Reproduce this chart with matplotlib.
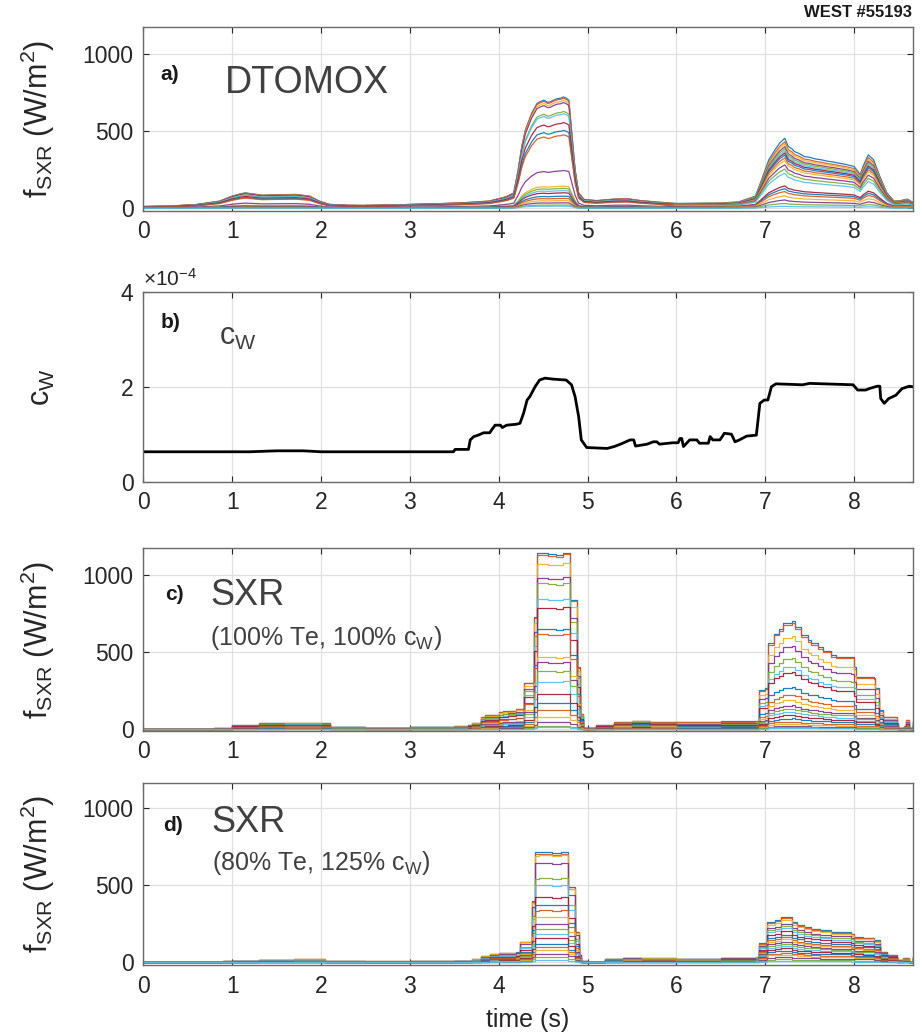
import numpy as np
import matplotlib
matplotlib.use("Agg")
import matplotlib.pyplot as plt

plt.rcParams['font.family'] = ['Liberation Sans', 'DejaVu Sans']
plt.rcParams['mathtext.fontset'] = 'custom'
plt.rcParams['mathtext.rm'] = 'Liberation Sans'
plt.rcParams['mathtext.it'] = 'Liberation Sans:italic'
plt.rcParams['mathtext.bf'] = 'Liberation Sans:bold'

# ---------------- data ----------------
# panel a: DTOMOX, top-channel envelope (W/m^2)
t_a = [0, 0.3, 0.6, 0.86, 1.0, 1.1, 1.15, 1.34, 1.5, 1.72, 1.87, 1.98, 2.09, 2.3, 2.47, 2.8,
       3.03, 3.3, 3.59, 3.89, 4.04, 4.1, 4.17, 4.22, 4.26, 4.30, 4.37, 4.43, 4.47, 4.51, 4.55,
       4.58, 4.62, 4.66, 4.70, 4.73, 4.76, 4.79, 4.82, 4.86, 4.90, 4.96, 5.1, 5.3, 5.45, 5.6,
       5.8, 6.0, 6.2, 6.5, 6.7, 6.89, 6.96, 7.04, 7.11, 7.16, 7.22, 7.26, 7.30, 7.33, 7.38,
       7.44, 7.50, 7.56, 7.63, 7.70, 7.76, 7.82, 7.90, 8.0, 8.07, 8.10, 8.16, 8.22, 8.29,
       8.37, 8.45, 8.52, 8.6, 8.66]
env_a = [12, 15, 25, 47, 79, 95, 100, 85, 88, 90, 79, 47, 26, 20, 19, 22,
         26, 30, 36, 47, 68, 79, 100, 250, 400, 506, 613, 677, 690, 699, 685,
         688, 700, 709, 712, 720, 712, 699, 506, 250, 100, 58, 50, 60, 62, 50,
         40, 32, 33, 35, 42, 79, 186, 314, 378, 420, 453, 400, 385, 367, 355,
         335, 330, 320, 314, 305, 300, 293, 285, 271, 218, 271, 346, 314, 207,
         100, 47, 50, 60, 40]
# channel levels relative to top channel (first pulses / last pulse)
frac_a_early = [1.0, 0.99, 0.97, 0.95, 0.87, 0.85, 0.77, 0.70, 0.66, 0.20,
                0.34, 0.18, 0.16, 0.14, 0.11, 0.09, 0.07, 0.05, 0.03, 0.02]
frac_a_late = [1.0, 0.95, 0.92, 0.88, 0.85, 0.82, 0.79, 0.76, 0.72, 0.68,
               0.62, 0.56, 0.50, 0.32, 0.28, 0.24, 0.18, 0.12, 0.07, 0.03]

# panel b: tungsten concentration c_W (x1e-4)
t_b = [0, 1.2, 1.5, 1.8, 2.0, 3.49, 3.51, 3.66, 3.68, 3.72, 3.77, 3.83, 3.90, 3.92, 3.96,
       4.02, 4.04, 4.09, 4.20, 4.24, 4.28, 4.32, 4.35, 4.41, 4.46, 4.52, 4.61, 4.76, 4.82,
       4.86, 4.90, 4.93, 4.99, 5.22, 5.30, 5.37, 5.48, 5.52, 5.54, 5.67, 5.74, 5.78, 5.81,
       5.96, 6.02, 6.04, 6.06, 6.08, 6.15, 6.23, 6.26, 6.36, 6.38, 6.41, 6.49, 6.52, 6.54,
       6.62, 6.66, 6.71, 6.79, 6.90, 6.94, 6.99, 7.03, 7.07, 7.12, 7.42, 7.50, 7.99, 8.04,
       8.13, 8.17, 8.26, 8.29, 8.30, 8.34, 8.39, 8.47, 8.54, 8.62, 8.66]
cw_b = [0.63, 0.63, 0.65, 0.65, 0.63, 0.63, 0.68, 0.68, 0.88, 0.95, 0.98, 1.03, 1.03, 1.09, 1.19,
        1.19, 1.14, 1.19, 1.21, 1.23, 1.44, 1.72, 1.79, 2.0, 2.14, 2.18, 2.16, 2.14, 2.04,
        1.79, 1.37, 0.88, 0.72, 0.70, 0.74, 0.79, 0.88, 0.88, 0.75, 0.79, 0.84, 0.84, 0.79,
        0.82, 0.82, 0.91, 0.91, 0.74, 0.88, 0.88, 0.81, 0.81, 0.95, 0.88, 0.88, 0.96, 1.02,
        1.0, 0.84, 0.88, 0.96, 0.98, 1.65, 1.72, 1.72, 2.0, 2.06, 2.04, 2.07, 2.04, 1.93,
        1.93, 1.96, 2.01, 2.01, 1.75, 1.65, 1.75, 1.82, 1.96, 2.01, 2.0]

# panel c: synthetic SXR (100% Te, 100% c_W), top channel, staircase
t_c = [0, 0.8, 1.0, 1.3, 1.6, 1.9, 2.0, 2.1, 2.5, 3.0, 3.5, 3.65, 3.7, 3.8, 3.85, 4.0,
       4.05, 4.1, 4.2, 4.28, 4.40, 4.43, 4.55, 4.65, 4.72, 4.80, 4.88, 4.91, 4.95, 5.0,
       5.1, 5.3, 5.5, 5.7, 6.0, 6.5, 6.9, 6.93, 7.0, 7.03, 7.1, 7.15, 7.2, 7.3, 7.33,
       7.40, 7.48, 7.52, 7.59, 7.65, 7.74, 7.80, 7.96, 8.0, 8.02, 8.22, 8.24, 8.28, 8.33,
       8.48, 8.50, 8.56, 8.58, 8.62, 8.66]
env_c = [2, 5, 25, 38, 42, 42, 38, 15, 10, 15, 20, 25, 40, 80, 90, 110,
         115, 120, 130, 300, 730, 1140, 1135, 1130, 1145, 840, 400, 100, 10, 10,
         25, 45, 55, 45, 45, 50, 55, 255, 265, 560, 620, 650, 690, 700, 662,
         608, 576, 560, 532, 510, 479, 470, 468, 400, 338, 335, 265, 123, 80,
         40, 10, 20, 60, 10, 50]
frac_c_early = [1.0, 0.99, 0.94, 0.86, 0.83, 0.74, 0.69, 0.57, 0.54, 0.41,
                0.38, 0.33, 0.27, 0.20, 0.15, 0.11, 0.07, 0.04, 0.02, 0.01]
frac_c_late = [1.0, 0.98, 0.86, 0.77, 0.66, 0.58, 0.53, 0.39, 0.32, 0.27,
               0.22, 0.19, 0.16, 0.13, 0.10, 0.07, 0.05, 0.03, 0.02, 0.01]

# panel d: synthetic SXR (80% Te, 125% c_W), top channel, staircase
t_d = [0, 0.9, 1.0, 1.3, 1.7, 2.05, 2.5, 3.0, 3.5, 3.7, 3.8, 3.9, 4.0, 4.2, 4.24, 4.38,
       4.41, 4.45, 4.60, 4.70, 4.78, 4.86, 4.90, 4.93, 5.0, 5.2, 5.4, 5.6, 6.0, 6.5, 6.9,
       6.93, 7.02, 7.11, 7.18, 7.30, 7.36, 7.44, 7.52, 7.62, 7.74, 7.96, 8.0, 8.10, 8.22,
       8.29, 8.37, 8.48, 8.55, 8.62, 8.66]
env_d = [2, 8, 12, 18, 20, 8, 6, 8, 12, 20, 40, 55, 60, 65, 134, 400,
         715, 718, 712, 718, 489, 200, 50, 8, 5, 25, 30, 28, 25, 30, 35,
         123, 263, 274, 295, 263, 245, 231, 220, 209, 198, 187, 166, 160, 144,
         69, 47, 15, 26, 4, 37]
frac_d_early = [1.0, 0.98, 0.97, 0.90, 0.76, 0.70, 0.59, 0.52, 0.47, 0.41,
                0.35, 0.30, 0.26, 0.22, 0.17, 0.14, 0.11, 0.08, 0.05, 0.02]
frac_d_late = [1.0, 0.97, 0.93, 0.85, 0.80, 0.75, 0.68, 0.61, 0.55, 0.51,
               0.45, 0.41, 0.36, 0.31, 0.26, 0.21, 0.17, 0.12, 0.07, 0.03]

split_time = 6.0  # boundary between the two sets of channel levels
x_ticks = [0, 1, 2, 3, 4, 5, 6, 7, 8]
sxr_ticks = [0, 500, 1000]
cw_ticks = [0, 2, 4]

# ---------------- styling ----------------
matlab_colors = ['#0072BD', '#D95319', '#EDB120', '#7E2F8E', '#77AC30', '#4DBEEE', '#A2142F']
text_col = '#404040'
W, H = 921, 1036
fig = plt.figure(figsize=(W / 100, H / 100), dpi=100)

left = 143.3 / W
width = 769.4 / W
def ax_rect(top_px, bot_px):
    return [left, 1 - bot_px / H, width, (bot_px - top_px) / H]

ax_a = fig.add_axes(ax_rect(27.3, 210.7))
ax_b = fig.add_axes(ax_rect(291.7, 481.7))
ax_c = fig.add_axes(ax_rect(548.3, 730.7))
ax_d = fig.add_axes(ax_rect(783.3, 965.0))

def style(ax, ylim, yticks):
    ax.set_xlim(0, 8.66)
    ax.set_ylim(*ylim)
    ax.set_xticks(x_ticks)
    ax.set_yticks(yticks)
    ax.grid(True, color='#e0e0e0', linewidth=0.9)
    ax.set_axisbelow(True)
    ax.tick_params(direction='in', length=4, width=0.8, top=True, right=True,
                   labelsize=16.5, colors='#262626', pad=7)
    for s in ax.spines.values():
        s.set_color('#6a6a6a')
        s.set_linewidth(1.0)

def draw_channels(ax, t, env, f_early, f_late, steps):
    t = np.asarray(t, dtype=float)
    env = np.asarray(env, dtype=float)
    for k in range(len(f_early)):
        fk = np.where(t < split_time, f_early[k], f_late[k])
        ax.plot(t, env * fk, color=matlab_colors[k % 7], lw=0.9, alpha=0.9,
                drawstyle='steps-post' if steps else 'default')

lab_fs = 22
tag_fs = 15

# panel a
draw_channels(ax_a, t_a, env_a, frac_a_early, frac_a_late, False)
style(ax_a, (-15, 1170), sxr_ticks)
ax_a.set_ylabel(r'f$_\mathrm{SXR}$ (W/m$^2$)', fontsize=lab_fs, color='#262626')
ax_a.text(0.022, 0.745, 'a)', transform=ax_a.transAxes, fontsize=tag_fs, fontweight='bold',
          ha='left', va='center', color='#1a1a1a')
ax_a.text(0.106, 0.64, 'DTOMOX', transform=ax_a.transAxes, fontsize=27, color=text_col,
          ha='left', va='baseline')

# panel b
ax_b.plot(t_b, np.asarray(cw_b), color='black', lw=2.0)
style(ax_b, (0, 4), cw_ticks)
ax_b.set_ylabel(r'c$_\mathrm{W}$', fontsize=lab_fs, color='#262626')
ax_b.text(0.0, 1.012, r'$\times10^{-4}$', transform=ax_b.transAxes, fontsize=15,
          ha='left', va='bottom', color='#262626')
ax_b.text(0.022, 0.84, 'b)', transform=ax_b.transAxes, fontsize=tag_fs, fontweight='bold',
          ha='left', va='center', color='#1a1a1a')
ax_b.text(0.098, 0.72, r'c$_\mathrm{W}$', transform=ax_b.transAxes, fontsize=22, color=text_col,
          ha='left', va='baseline')

# panel c
draw_channels(ax_c, t_c, env_c, frac_c_early, frac_c_late, True)
style(ax_c, (-10, 1173), sxr_ticks)
ax_c.set_ylabel(r'f$_\mathrm{SXR}$ (W/m$^2$)', fontsize=lab_fs, color='#262626')
ax_c.text(0.028, 0.744, 'c)', transform=ax_c.transAxes, fontsize=tag_fs, fontweight='bold',
          ha='left', va='center', color='#1a1a1a')
ax_c.text(0.0867, 0.689, 'SXR', transform=ax_c.transAxes, fontsize=26, color=text_col,
          ha='left', va='baseline')
ax_c.text(0.0867, 0.47, r'(100% Te, 100% c$_\mathrm{W}$)', transform=ax_c.transAxes,
          fontsize=18, color=text_col, ha='left', va='baseline')

# panel d
draw_channels(ax_d, t_d, env_d, frac_d_early, frac_d_late, True)
style(ax_d, (-17, 1163), sxr_ticks)
ax_d.set_ylabel(r'f$_\mathrm{SXR}$ (W/m$^2$)', fontsize=lab_fs, color='#262626')
ax_d.set_xlabel('time (s)', fontsize=18, color='#262626')
ax_d.text(0.026, 0.768, 'd)', transform=ax_d.transAxes, fontsize=tag_fs, fontweight='bold',
          ha='left', va='center', color='#1a1a1a')
ax_d.text(0.089, 0.734, 'SXR', transform=ax_d.transAxes, fontsize=26, color=text_col,
          ha='left', va='baseline')
ax_d.text(0.089, 0.523, r'(80% Te, 125% c$_\mathrm{W}$)', transform=ax_d.transAxes,
          fontsize=18, color=text_col, ha='left', va='baseline')

for ax in (ax_a, ax_b, ax_c, ax_d):
    ax.yaxis.set_label_coords(-0.112, 0.5)
ax_d.xaxis.set_label_coords(0.5, -0.235)

fig.text(0.990, 0.988, 'WEST #55193', fontsize=12, fontweight='bold', ha='right',
         va='center', color='#1a1a1a')

fig.savefig('out.png', dpi=100)
